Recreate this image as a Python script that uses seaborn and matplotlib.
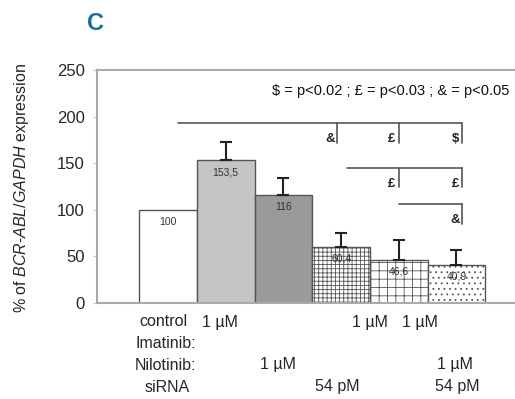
import pandas as pd
import seaborn as sns
from matplotlib import pyplot as plt
from matplotlib import font_manager

groups = ["control", "Imatinib", "Nilotinib", "siRNA", "Imatinib+siRNA", "Nilotinib+siRNA"]
values = [100, 153.5, 116, 60.4, 46.6, 40.9]
errors = [0, 19, 18, 15, 21, 16]
value_labels = ["100", "153,5", "116", "60,4", "46,6", "40,9"]
colors = ["#ffffff", "#c4c4c4", "#9a9a9a", "#ffffff", "#ffffff", "#ffffff"]
hatches = ["", "", "", "++++", "++", "..."]

# significance brackets: (y, x_start, x_end, tick positions, symbols)
brackets = [
    (193, 0.17, 5.1, [2.93, 4.0, 5.1], ["&", "£", "$"]),
    (145, 3.1, 5.1, [4.0, 5.1], ["£", "£"]),
    (106, 4.0, 5.1, [5.1], ["&"]),
]

names = [f.name for f in font_manager.fontManager.ttflist]
narrow = "Liberation Sans Narrow" if "Liberation Sans Narrow" in names else "Liberation Sans"

sns.set_style("white")
plt.rcParams["font.family"] = [narrow, "DejaVu Sans"]
plt.rcParams["mathtext.fontset"] = "custom"
plt.rcParams["mathtext.it"] = narrow + ":italic"
plt.rcParams["mathtext.rm"] = narrow
plt.rcParams["hatch.color"] = "#b4b4b4"
plt.rcParams["hatch.linewidth"] = 0.6

df = pd.DataFrame({"group": groups, "value": values})

fig = plt.figure(figsize=(5.15, 3.99), dpi=100)
ax = fig.add_axes([97 / 515, 96 / 399, (600 - 97) / 515, 233 / 399])

sns.barplot(data=df, x="group", y="value", hue="group", palette=colors,
            width=1.0, edgecolor="#555555", linewidth=1.0, errorbar=None,
            legend=False, ax=ax)
for patch, h in zip(ax.patches, hatches):
    patch.set_hatch(h)

ax.errorbar(range(1, 6), values[1:], yerr=[[0] * 5, errors[1:]], fmt="none",
            ecolor="#222222", elinewidth=1.5, capsize=4, capthick=1.5)

for i, (v, lab) in enumerate(zip(values, value_labels)):
    ax.text(i, v - 13, lab, ha="center", va="center", fontsize=7.5, color="#333333")

for y, x0, x1, ticks, syms in brackets:
    ax.plot([x0, x1], [y, y], color="#555555", lw=1.2, clip_on=False)
    for t, s in zip(ticks, syms):
        ax.plot([t, t], [y, y - 21], color="#555555", lw=1.2)
        ax.text(t - 0.12, y - 17, s, ha="center", va="center", fontsize=9.5,
                fontweight="bold", color="#222222")

ax.text(1.8, 228, "$ = p<0.02 ; £ = p<0.03 ; & = p<0.05", ha="left", va="center",
        fontsize=10.5, color="#111111", clip_on=False)

ax.set_xlim(-1.23, (600 - 168) / 57.7)
ax.set_ylim(0, 250)
ax.set_yticks([0, 50, 100, 150, 200, 250])
ax.tick_params(axis="y", labelsize=12, length=3, color="#cccccc", pad=6, left=True)
ax.set_xticks([])
ax.set_xlabel("")
ax.set_ylabel("")
for sp in ax.spines.values():
    sp.set_color("#aaaaaa")
    sp.set_linewidth(1.5)

fig.text(22 / 515, 1 - 188 / 399, r"% of $\it{BCR}$-$\it{ABL/GAPDH}$ expression",
         rotation=90, ha="center", va="center", fontsize=11.5)
fig.text(96 / 515, 1 - 24 / 399, "C", ha="center", va="center", fontsize=17,
         fontweight="bold", color="#1a7099")

rows = [
    (322, [(163, "control"), (220, "1 µM"), (370, "1 µM"), (420, "1 µM")]),
    (343, [(166, "Imatinib:")]),
    (365, [(166, "Nilotinib:"), (278, "1 µM"), (455, "1 µM")]),
    (387, [(167, "siRNA"), (337, "54 pM"), (457, "54 pM")]),
]
for y, items in rows:
    for x, s in items:
        fig.text(x / 515, 1 - y / 399, s, ha="center", va="center", fontsize=11.5)

plt.savefig("out.png", dpi=100)
plt.close()
